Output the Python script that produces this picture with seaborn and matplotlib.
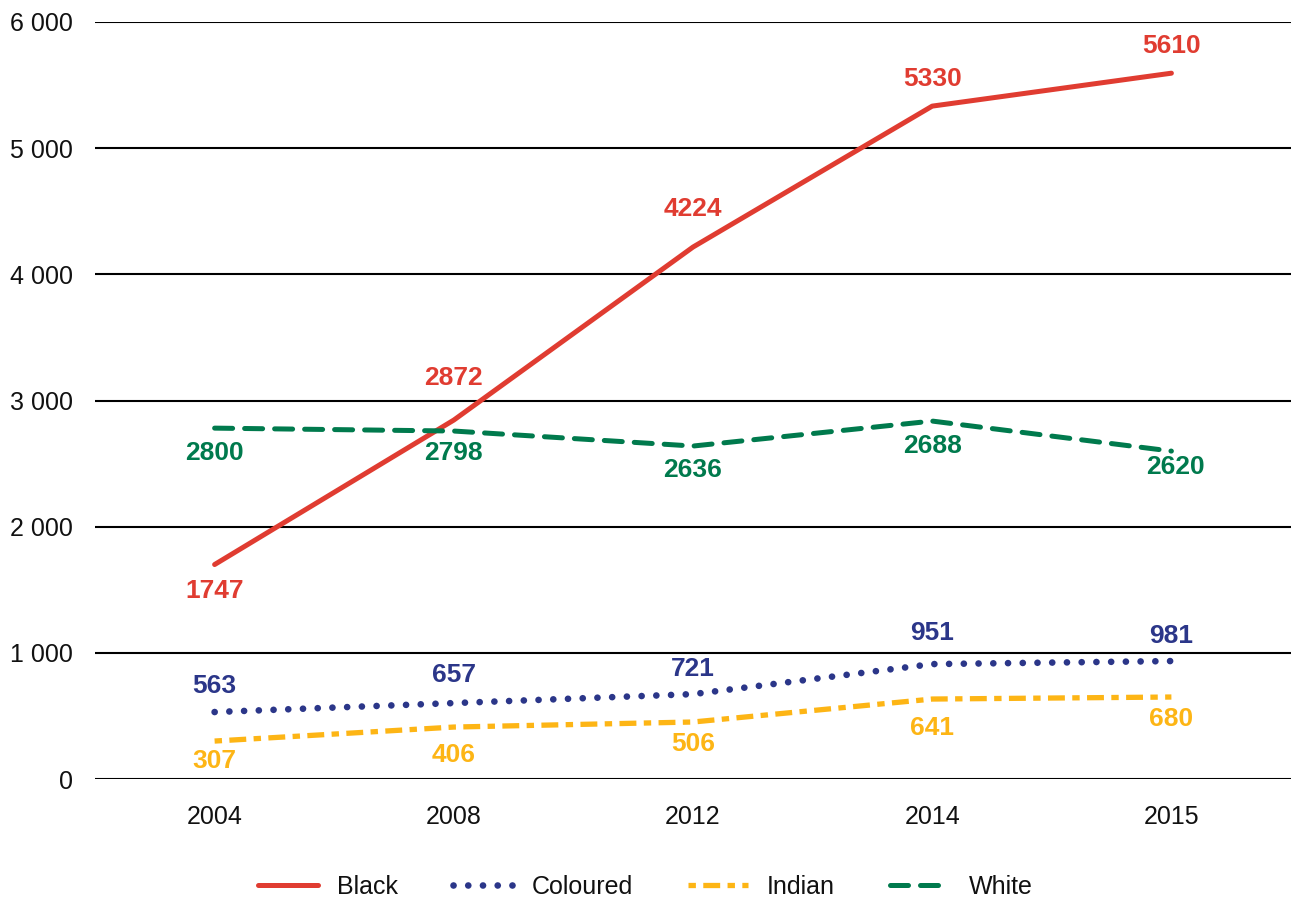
import matplotlib
matplotlib.use("Agg")
import matplotlib.pyplot as plt
import seaborn as sns
import pandas as pd
import numpy as np

# ---- data ----
years = ["2004", "2008", "2012", "2014", "2015"]
black = [1700, 2845, 4216, 5333, 5594]
coloured = [531, 602, 673, 911, 935]
indian = [301, 412, 452, 634, 650]
white = [2781, 2758, 2639, 2837, 2599]

black_labels = ["1747", "2872", "4224", "5330", "5610"]
coloured_labels = ["563", "657", "721", "951", "981"]
indian_labels = ["307", "406", "506", "641", "680"]
white_labels = ["2800", "2798", "2636", "2688", "2620"]

yticks = [0, 1000, 2000, 3000, 4000, 5000, 6000]

sns.set_theme(style="white")
plt.rcParams['font.family'] = ['Liberation Sans', 'DejaVu Sans']

fig = plt.figure(figsize=(12.91, 9.0), dpi=100)
ax = fig.add_axes([0.0736, 0.1344, 0.9264, 0.8412])

xpos = np.arange(len(years))

series = [
    ("Black", black, black_labels, "#E03C31", (0, ()), "round", 3.6,
     [(0, -26), (0, 42), (0, 38), (0, 27), (0, 27)]),
    ("Coloured", coloured, coloured_labels, "#2B3689", (0, (0.01, 2.2)), "round", 4.8,
     [(0, 26), (0, 28), (0, 25), (0, 31), (0, 25)]),
    ("Indian", indian, indian_labels, "#FDB515", (4.6, (3.2, 1.4, 1.4, 1.4)), "butt", 3.8,
     [(0, -20), (0, -28), (0, -22), (0, -29), (0, -22)]),
    ("White", white, white_labels, "#007A4D", (0, (3.6, 2.4)), "round", 3.6,
     [(0, -25), (0, -22), (0, -24), (0, -25), (4, -16)]),
]

for name, vals, labs, col, ls, cap, lw, offs in series:
    df = pd.DataFrame({"x": xpos, "y": vals})
    sns.lineplot(data=df, x="x", y="y", ax=ax, color=col, linewidth=lw,
                 linestyle=ls, label=name, legend=False)
    line = ax.get_lines()[-1]
    line.set_dash_capstyle(cap)
    line.set_solid_capstyle("round")
    line.set_solid_joinstyle("round")
    for xi, v, lab, off in zip(xpos, vals, labs, offs):
        ax.annotate(lab, (xi, v), xytext=off, textcoords="offset pixels",
                    ha="center", va="center", fontsize=19, fontweight="bold",
                    color=col)

ax.set_xlim(-0.5, len(years) - 0.5)
ax.set_ylim(0, 6000)
ax.set_yticks(yticks)
ax.set_yticklabels([f"{v:,}".replace(",", " ") for v in yticks])
ax.set_xticks(xpos)
ax.set_xticklabels(years)
ax.tick_params(axis="y", length=0, pad=16, labelsize=18, colors="#111111")
ax.tick_params(axis="x", length=0, pad=19, labelsize=18, colors="#111111")
ax.set_xlabel("")
ax.set_ylabel("")
for s in ax.spines.values():
    s.set_visible(False)
ax.yaxis.grid(True, color="black", linewidth=1.5)
ax.xaxis.grid(False)
ax.set_axisbelow(True)

handles = ax.get_lines()[:4]
labels = [h.get_label() for h in handles]
fig.legend(handles, labels, loc="center", bbox_to_anchor=(0.5, 0.0144), ncol=4,
           frameon=False, fontsize=18, handlelength=2.4, handletextpad=0.75,
           columnspacing=2.2, labelcolor="#111111")

fig.savefig("out.png", dpi=100)
